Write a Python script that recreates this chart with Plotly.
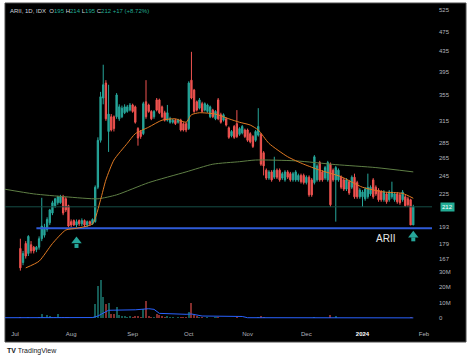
import numpy as np
import pandas as pd
import plotly.graph_objects as go

# ---------------- data ----------------
axis_origin = "2023-07-03"       # first trading day of July (x index 0)
first_day = "2023-07-05"         # first candle

opens = [175,164,179,171,178,176,174,176,183,186,191,197,206,213,216,216,222,220,213,198,
         199,195,199,196,199,195,198,196,198,232,288,350,375,300,321,321,321,318,321,327,
         329,331,339,336,304,300,297,344,339,329,321,347,347,336,327,316,313,313,316,313,
         316,311,311,304,380,363,344,334,341,331,329,321,331,318,347,324,316,318,
         305,294,307,311,296,298,302,302,297,293,288,295,296,272,251,242,249,243,251,251,
         242,240,249,247,240,240,240,245,245,237,243,240,237,240,260,249,242,240,258,251,
         240,240,243,240,230,238,232,243,237,222,222,220,222,225,240,232,229,227,219,225,
         219,222,219,225,224,219,222,220,219,195]
highs = [183,173,181,186,181,177,177,185,221,196,202,210,218,221,223,224,224,222,214,200,
         200,200,200,201,200,199,199,201,234,292,360,408,380,372,325,323,358,340,338,340,
         339,342,341,338,306,302,344,380,341,331,331,350,349,338,330,339,321,318,318,318,
         318,313,313,378,433,365,346,350,344,343,341,338,333,331,350,327,326,320,
         307,302,309,331,306,309,304,304,299,295,302,334,298,274,253,251,251,267,253,253,
         249,251,251,249,249,251,247,247,247,245,245,242,269,258,262,251,256,262,260,253,
         256,253,245,242,242,240,245,247,239,231,229,232,247,234,242,234,231,229,229,227,
         229,238,227,227,226,229,224,222,220,214]
lows = [158,162,167,169,171,171,172,174,181,184,189,195,204,211,214,215,204,207,193,193,
        194,193,194,194,193,193,194,195,197,230,285,340,315,273,300,300,318,315,319,325,
        327,329,327,311,281,290,295,318,327,316,318,329,325,319,314,314,311,311,309,311,
        300,300,299,302,348,327,329,332,327,329,327,319,319,316,316,311,314,307,
        290,292,290,291,294,296,291,286,284,278,286,293,256,245,240,240,238,241,241,238,
        240,238,241,238,238,238,238,236,235,235,222,222,235,238,238,238,240,238,212,238,
        198,238,230,228,228,224,230,220,220,220,212,218,220,223,220,223,217,217,217,215,
        217,220,217,215,214,217,212,212,195,195]
closes = [160,171,169,185,173,173,176,183,194,193,200,209,216,220,222,222,206,209,194,195,
          195,198,196,199,195,198,196,200,232,288,352,372,318,325,302,304,355,336,334,336,
          336,339,329,313,291,293,341,321,329,318,329,331,327,321,316,327,318,316,311,316,
          302,302,302,375,350,329,331,347,329,341,339,336,321,329,318,313,324,309,
          292,300,292,293,304,307,293,288,286,280,300,307,258,256,242,249,240,251,243,240,
          247,249,243,240,247,249,245,238,237,243,224,224,267,256,240,240,254,260,214,240,
          254,251,232,230,240,226,243,222,222,229,227,230,232,232,222,225,219,219,227,217,
          227,227,225,217,216,227,213,214,195,212]
volumes_m = [0.6,0.4,0.5,0.8,0.4,0.3,0.3,0.6,3.0,1.0,2.0,1.2,0.9,1.0,2.5,1.0,0.8,0.6,0.7,
             0.4,0.3,0.3,0.4,0.3,0.3,0.4,0.5,0.8,9,21,25,14,9,10,3,2.5,7,2,1.5,1.2,1.0,1.3,
             1.0,1.5,1.8,1.0,6,11,1.5,1.0,0.8,3,2,1.2,1.0,1.5,0.8,0.6,0.5,0.6,0.8,0.7,0.8,
             4,10,2.0,1.2,0.8,0.6,0.5,0.6,0.5,0.4,0.6,0.8,0.5,0.4,0.5,
             0.4,0.3,0.4,0.6,0.3,0.4,0.3,0.4,0.4,0.5,0.4,0.6,1.5,0.8,
             0.3,0.3,0.2,0.4,0.2,0.3,0.2,0.2,0.3,0.2,0.2,0.3,0.2,0.2,0.3,0.2,0.5,0.4,0.6,0.4,
             0.3,0.3,0.3,0.4,2.0,0.5,1.5,
             0.4,0.3,0.3,0.2,0.3,0.2,0.4,0.3,0.2,0.3,0.2,0.3,0.2,0.2,0.3,0.2,0.2,0.2,0.3,0.2,
             0.2,0.3,0.2,0.2,0.3,0.3,0.3,0.6,0.5]

ma_fast_dates = ["2023-07-07","2023-07-14","2023-07-21","2023-07-28","2023-08-03","2023-08-11",
                 "2023-08-16","2023-08-18","2023-08-23","2023-08-30","2023-09-04","2023-09-11",
                 "2023-09-18","2023-09-25","2023-09-29","2023-10-03","2023-10-06","2023-10-16",
                 "2023-10-23","2023-10-27","2023-11-02","2023-11-07","2023-11-13","2023-11-22",
                 "2023-11-30","2023-12-08","2023-12-20","2024-01-01","2024-01-11","2024-01-22",
                 "2024-01-26"]
ma_fast_values = [160,165,179,190.5,192,196,219,240,263,284,297,306,316,318,313,324,327,325,
                  318,313,309,302,284,267,258,251,243.5,232,227,225.5,220.5]

ma_slow_dates = ["2023-06-27","2023-07-12","2023-07-28","2023-08-15","2023-08-24","2023-09-11",
                 "2023-09-29","2023-10-13","2023-10-27","2023-11-06","2023-11-27","2023-12-18",
                 "2024-01-08","2024-01-26"]
ma_slow_values = [230,225,222,220,224,237,249,258,261,263,262,257.5,254,249]

vol_ma_dates = ["2023-06-27","2023-08-11","2023-08-15","2023-08-17","2023-08-21","2023-09-04",
                "2023-09-11","2023-09-13","2023-09-15","2023-09-29","2023-10-03","2023-10-09",
                "2023-10-30","2023-11-01","2024-01-26"]
vol_ma_values_m = [0.4,0.5,1.5,3.5,5.2,5.5,6.2,5.8,3.2,2.6,2.8,1.5,1.2,0.4,0.3]

price_ticks = [525, 475, 435, 395, 355, 315, 285, 265, 245, 225, 193, 179, 167]
volume_ticks_m = [0, 10, 20, 30]
volume_tick_labels = ["0", "10M", "20M", "30M"]
month_starts = ["2023-07-03","2023-08-01","2023-09-01","2023-10-02","2023-11-01",
                "2023-12-01","2024-01-01","2024-02-01"]
month_labels = ["Jul","Aug","Sep","Oct","Nov","Dec",
                '<span style="color:#ffffff"><b>2024</b></span>',"Feb"]

support_level = 192
support_start = "2023-07-13"
last_price = 212
arrow_dates = ["2023-08-03", "2024-01-26"]
arrow_head_prices = [181, 186]
arrow_stem_prices = [177, 182.5]

# ---------------- helpers ----------------
def pos(dates):
    d = pd.to_datetime(pd.Index(dates)).values.astype("datetime64[D]")
    return np.busday_count(np.datetime64(axis_origin), d)

trade_days = pd.bdate_range(first_day, periods=len(closes))
assert len(opens) == len(highs) == len(lows) == len(closes) == len(volumes_m)
xs = pos(trade_days)

W, H = 474, 359
X_RANGE = [-3.75, 156.0]
GREEN = "#26a69a"
RED = "#ef5350"

fig = go.Figure()

# black chart background
fig.add_shape(type="rect", xref="paper", yref="paper",
              x0=5 / W, x1=466 / W, y0=(H - 342) / H, y1=(H - 3) / H,
              fillcolor="#000000", line=dict(color="#4a4a4a", width=1), layer="below")

# volume bars
vol_colors = ["rgba(38,166,154,0.55)" if c >= o else "rgba(239,83,80,0.55)"
              for o, c in zip(opens, closes)]
fig.add_trace(go.Bar(x=xs, y=volumes_m, marker=dict(color=vol_colors, line_width=0),
                     width=0.75, yaxis="y2", hoverinfo="skip"))
fig.add_trace(go.Scatter(x=pos(vol_ma_dates), y=vol_ma_values_m, mode="lines",
                         line=dict(color="#2962ff", width=1), yaxis="y2", hoverinfo="skip"))

# last price line and support line
fig.add_trace(go.Scatter(x=X_RANGE, y=[last_price, last_price], mode="lines",
                         line=dict(color="#164d46", width=1), hoverinfo="skip"))
fig.add_trace(go.Scatter(x=[pos([support_start])[0], X_RANGE[1]], y=[support_level, support_level],
                         mode="lines", line=dict(color="#2f5bd8", width=2), hoverinfo="skip"))

# moving averages
fig.add_trace(go.Scatter(x=pos(ma_slow_dates), y=ma_slow_values, mode="lines",
                         line=dict(color="#5f7f45", width=1, shape="spline", smoothing=0.6),
                         hoverinfo="skip"))
fig.add_trace(go.Scatter(x=pos(ma_fast_dates), y=ma_fast_values, mode="lines",
                         line=dict(color="#e07a22", width=1, shape="spline", smoothing=0.6),
                         hoverinfo="skip"))

# candles
fig.add_trace(go.Candlestick(
    x=xs, open=opens, high=highs, low=lows, close=closes,
    increasing=dict(line=dict(color=GREEN, width=1), fillcolor=GREEN),
    decreasing=dict(line=dict(color=RED, width=1), fillcolor=RED),
    whiskerwidth=0, hoverinfo="skip"))

# arrows
ax = pos(arrow_dates)
fig.add_trace(go.Scatter(x=ax, y=arrow_head_prices, mode="markers",
                         marker=dict(symbol="triangle-up", size=9, color=GREEN), hoverinfo="skip"))
fig.add_trace(go.Scatter(x=ax, y=arrow_stem_prices, mode="markers",
                         marker=dict(symbol="square", size=4, color=GREEN), hoverinfo="skip"))

# ---------------- layout ----------------
axis_font = dict(family="Liberation Sans, Arial", size=6, color="#b2b5be")
fig.update_layout(
    width=W, height=H, margin=dict(l=0, r=0, t=0, b=0),
    paper_bgcolor="#ffffff", plot_bgcolor="#000000",
    showlegend=False, bargap=0, hovermode=False,
    xaxis=dict(domain=[5 / W, 432 / W], range=X_RANGE, type="linear",
               tickmode="array", tickvals=pos(month_starts), ticktext=month_labels,
               showgrid=False, zeroline=False, showline=False, ticks="",
               tickfont=axis_font, ticklabelstandoff=4,
               rangeslider=dict(visible=False)),
    yaxis=dict(domain=[(H - 325) / H, (H - 3) / H], type="log", range=[2.0898, 2.7342],
               side="right", tickmode="array", tickvals=price_ticks,
               ticktext=[str(v) for v in price_ticks],
               showgrid=False, zeroline=False, showline=False, ticks="",
               tickfont=axis_font, ticklabelstandoff=6),
    yaxis2=dict(overlaying="y", side="right", range=[-4.3, 203.4],
                tickmode="array", tickvals=volume_ticks_m, ticktext=volume_tick_labels,
                showgrid=False, zeroline=False, showline=False, ticks="",
                tickfont=axis_font, ticklabelstandoff=6),
)

g = "#22ab94"
header = ('ARII, 1D, IDX&nbsp; O<span style="color:%s">195</span> H<span style="color:%s">214</span> '
          'L<span style="color:%s">195</span> C<span style="color:%s">212</span> '
          '<span style="color:%s">+17 (+8.72%%)</span>') % (g, g, g, g, g)
fig.add_annotation(xref="paper", yref="paper", x=8 / W, y=(H - 11) / H, text=header,
                   showarrow=False, xanchor="left", yanchor="middle",
                   font=dict(family="Liberation Sans, Arial", size=6, color="#d1d4dc"))
fig.add_annotation(xref="paper", yref="y", x=447 / W, y=np.log10(last_price), text=str(last_price),
                   showarrow=False, xanchor="center", yanchor="middle", bgcolor=g, borderpad=1,
                   font=dict(family="Liberation Sans, Arial", size=6, color="#ffffff"))
fig.add_annotation(xref="paper", yref="paper", x=385 / W, y=(H - 238) / H, text="ARII",
                   showarrow=False, xanchor="center", yanchor="middle",
                   font=dict(family="Liberation Sans, Arial", size=10, color="#e6e6e6"))
fig.add_annotation(xref="paper", yref="paper", x=5 / W, y=(H - 351) / H,
                   text="<b>TV</b> TradingView", showarrow=False, xanchor="left", yanchor="middle",
                   font=dict(family="Liberation Sans, Arial", size=7, color="#131722"))

fig.write_html("out.html", config={"displayModeBar": False, "staticPlot": True},
               post_script="document.body.style.margin='0';document.body.style.overflow='hidden';")
